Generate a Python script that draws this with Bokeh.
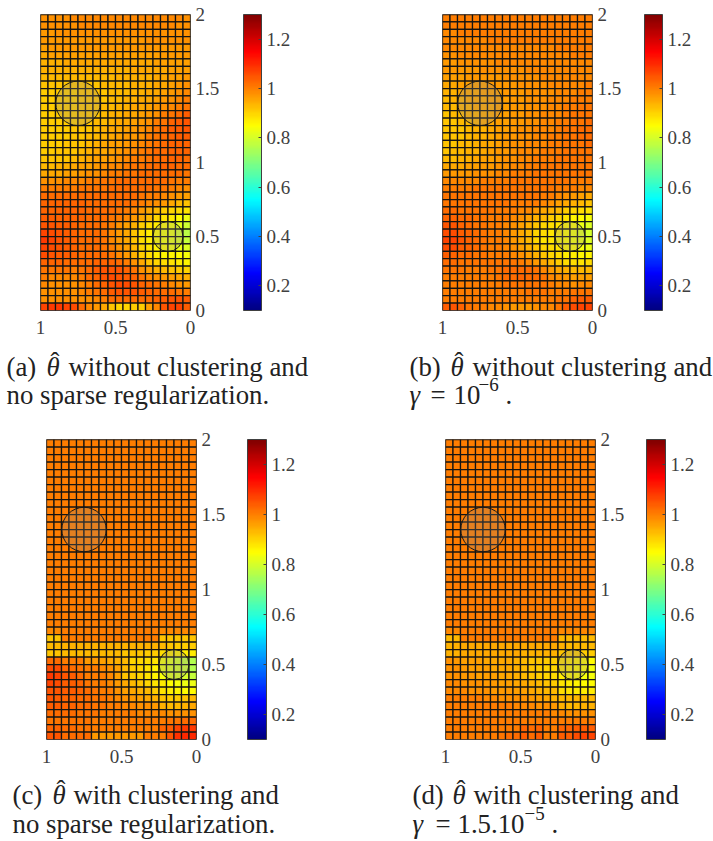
from bokeh.plotting import figure
from bokeh.layouts import column, row
from bokeh.models import (ColorBar, ColumnDataSource, CustomJSTickFormatter, FixedTicker,
                          Label, LinearColorMapper, Range1d)
from bokeh.embed import file_html
from bokeh.resources import INLINE

# Values in hundredths; rows run from y=2 (top) to y=0, columns from x=1 (left) to x=0.
theta_a = [
[98,98,98,98,99,99,99,99,99,99,99,99,99,99,99,99,99,99,99,98],
[98,98,98,98,98,99,99,99,99,99,99,99,99,99,99,99,99,99,98,98],
[97,97,98,98,98,98,98,98,98,98,98,98,98,98,98,98,98,98,98,98],
[97,97,97,97,97,97,97,97,97,97,97,97,97,97,98,98,98,98,98,98],
[96,97,97,97,97,97,97,97,97,97,97,97,97,97,97,97,97,97,97,97],
[95,96,96,96,96,96,96,96,96,96,96,96,96,96,96,96,97,97,97,97],
[94,94,94,95,95,95,95,95,95,95,95,95,95,95,95,96,96,96,96,96],
[94,94,94,94,94,94,94,94,94,94,94,94,95,95,95,95,95,96,96,96],
[93,93,93,93,93,93,93,93,93,93,94,94,94,94,94,95,95,96,96,97],
[92,92,92,92,92,92,92,92,93,93,93,93,94,94,94,95,95,96,97,98],
[91,91,91,91,91,92,92,92,92,93,93,93,94,94,95,95,96,97,98,99],
[91,91,91,91,91,92,92,92,92,93,93,94,94,95,95,96,97,98,99,100],
[91,91,91,91,91,92,92,92,93,93,94,94,95,95,96,97,98,99,100,101],
[91,91,91,91,91,92,92,92,93,94,94,95,95,96,97,98,100,101,102,104],
[91,91,91,91,91,92,92,93,93,94,95,95,96,97,98,100,101,103,104,105],
[91,91,91,91,92,92,92,93,94,95,95,96,97,98,99,101,102,104,104,105],
[91,91,91,91,92,92,93,93,94,95,96,97,97,98,100,101,102,103,104,104],
[91,91,91,92,92,92,93,94,95,96,96,97,98,99,100,101,102,103,103,103],
[91,91,92,92,92,93,94,95,95,96,97,98,99,100,101,102,102,103,103,103],
[92,92,92,92,93,94,95,96,96,97,98,99,100,100,101,102,102,103,103,102],
[93,93,94,94,95,96,96,97,98,99,99,100,101,101,102,102,103,103,102,102],
[95,95,95,96,96,97,98,98,99,100,100,101,101,102,102,102,102,102,102,101],
[98,98,98,99,99,99,100,100,101,101,102,102,102,102,102,102,102,101,100,100],
[100,100,100,100,100,101,101,101,101,102,102,102,102,102,102,101,101,100,99,98],
[102,102,102,102,102,102,102,102,102,102,102,102,102,101,100,100,99,98,97,96],
[103,103,103,103,103,103,102,102,102,102,102,102,101,100,99,98,97,95,93,92],
[103,103,103,103,103,103,102,102,102,102,101,100,99,97,95,93,91,90,89,88],
[104,104,103,103,103,103,102,102,102,101,100,99,97,95,93,90,88,87,85,83],
[105,105,104,104,103,102,102,102,101,100,98,96,94,91,89,87,85,84,82,79],
[107,106,105,104,103,102,102,102,101,99,97,95,92,89,87,85,84,83,80,77],
[108,107,105,104,103,102,102,102,101,99,97,95,92,89,87,85,84,83,81,78],
[107,106,105,104,103,102,102,102,101,100,98,96,93,90,88,86,85,84,83,81],
[106,105,104,104,103,102,102,102,102,101,99,97,94,91,89,87,86,86,85,84],
[103,103,103,102,102,102,102,103,103,103,102,100,98,95,92,90,89,88,87,86],
[101,101,101,101,100,101,102,104,105,105,105,103,101,98,96,94,93,92,91,90],
[100,99,99,99,99,100,102,103,105,106,105,104,103,101,99,98,97,96,95,94],
[99,98,98,98,98,99,100,102,103,105,106,106,105,103,102,101,100,99,98,97],
[98,98,98,98,98,99,100,101,102,104,105,105,105,104,103,102,102,102,101,100],
[98,98,98,98,98,98,98,99,100,102,102,102,102,102,102,103,104,105,105,104],
[107,108,108,107,106,102,99,97,95,92,90,90,91,91,96,99,105,107,107,104],
]

theta_b = [
[100,100,100,100,100,100,100,100,100,100,100,100,100,100,100,100,100,100,100,100],
[100,100,100,100,100,100,100,100,100,100,100,100,100,100,100,100,100,100,100,100],
[99,99,100,100,100,100,100,100,100,100,100,100,100,100,100,100,100,100,100,100],
[99,99,99,99,99,99,100,100,100,100,100,100,100,100,100,100,100,100,100,100],
[99,99,99,99,99,99,99,99,99,99,99,99,99,99,99,100,100,100,100,100],
[98,98,99,99,99,99,99,99,99,99,99,99,99,99,99,99,99,100,100,100],
[97,97,98,98,98,98,98,99,99,99,99,99,99,99,99,99,99,99,99,99],
[97,97,97,97,97,98,98,98,98,98,98,99,99,99,99,99,99,99,99,99],
[96,96,96,97,97,97,97,97,98,98,98,98,98,99,99,99,99,99,99,99],
[95,95,96,96,96,96,97,97,97,97,98,98,98,98,99,99,99,99,99,100],
[94,94,95,95,95,96,96,96,97,97,97,98,98,98,98,99,99,99,100,100],
[93,94,94,95,95,95,96,96,96,97,97,98,98,98,99,99,99,100,100,100],
[93,93,94,94,95,95,95,96,96,97,97,98,98,98,99,99,100,100,101,101],
[92,93,93,94,94,95,95,96,96,97,97,98,98,99,99,99,100,101,101,101],
[92,92,93,93,94,95,95,96,96,97,97,98,98,99,99,100,100,101,101,102],
[92,92,92,93,94,94,95,96,96,97,98,98,99,99,99,100,101,101,102,102],
[92,92,92,93,94,94,95,96,97,97,98,98,99,99,100,100,101,101,102,102],
[92,92,93,93,94,95,95,96,97,98,98,99,99,99,100,100,101,101,101,102],
[92,93,93,94,94,95,96,97,97,98,99,99,99,100,100,100,101,101,101,101],
[93,93,94,94,95,96,96,97,98,98,99,99,100,100,100,101,101,101,101,101],
[95,95,95,96,96,97,97,98,98,99,99,100,100,101,101,101,101,101,101,101],
[97,97,97,97,98,98,98,99,99,100,100,100,101,101,101,101,101,101,101,101],
[99,99,99,99,99,100,100,100,100,101,101,101,101,101,101,101,101,100,100,100],
[100,100,100,100,101,101,101,101,101,101,101,101,101,101,101,100,100,100,99,99],
[101,101,101,101,101,101,101,101,101,101,101,101,101,100,100,99,98,97,96,95],
[101,101,101,101,101,101,101,101,101,100,100,100,100,99,98,96,95,94,93,92],
[102,102,101,101,101,101,101,100,100,100,99,99,97,95,94,93,91,90,89,88],
[103,103,102,102,101,101,100,100,100,99,98,96,94,93,91,90,88,86,85,84],
[105,105,103,102,101,101,100,100,99,98,96,94,92,90,89,88,86,85,83,81],
[106,106,104,103,102,101,100,100,99,97,95,93,90,89,88,87,85,84,82,80],
[107,107,105,103,102,101,100,100,99,97,95,93,90,88,88,86,85,84,83,81],
[106,106,104,103,102,101,100,100,99,98,96,94,92,90,89,88,86,85,84,83],
[104,103,102,102,101,101,100,100,100,99,98,96,94,92,90,89,87,87,86,86],
[102,102,101,101,101,101,101,101,101,101,100,99,97,95,93,91,89,89,88,89],
[101,101,101,100,100,100,101,101,102,102,102,102,101,99,97,95,94,93,93,93],
[100,100,100,100,100,100,100,101,102,102,103,102,102,101,99,98,97,96,96,96],
[100,100,100,100,100,100,100,100,101,101,101,101,101,101,100,99,99,98,99,99],
[100,100,100,100,100,100,100,100,100,100,100,101,101,101,100,100,100,101,101,101],
[100,100,100,100,100,100,100,100,100,100,100,100,100,100,100,101,101,103,104,104],
[104,105,103,101,100,100,99,99,98,97,97,97,98,99,99,101,104,106,107,107],
]

theta_c = [
[100,100,100,100,100,100,100,100,100,100,100,100,100,100,100,100,100,100,100,100],
[100,100,100,100,100,100,100,100,100,100,100,100,100,100,100,100,100,100,100,100],
[100,100,100,100,100,100,100,100,100,100,100,100,100,100,100,100,100,100,100,100],
[100,100,100,100,100,100,100,100,100,100,100,100,100,100,100,100,100,100,100,100],
[100,100,100,100,100,100,100,100,100,100,100,100,100,100,100,100,100,100,100,100],
[100,100,100,100,100,100,100,100,100,100,100,100,100,100,100,100,100,100,100,100],
[100,100,100,100,100,100,100,100,100,100,100,100,100,100,100,100,100,100,100,100],
[100,100,100,100,100,100,100,100,100,100,100,100,100,100,100,100,100,100,100,100],
[100,100,100,100,100,100,100,100,100,100,100,100,100,100,100,100,100,100,100,100],
[100,100,100,100,100,100,100,100,100,100,100,100,100,100,100,100,100,100,100,100],
[100,100,100,100,100,100,100,100,100,100,100,100,100,100,100,100,100,100,100,100],
[100,100,100,100,100,100,100,100,100,100,100,100,100,100,100,100,100,100,100,100],
[100,100,100,100,100,100,100,100,100,100,100,100,100,100,100,100,100,100,100,100],
[100,100,100,100,100,100,100,100,100,100,100,100,100,100,100,100,100,100,100,100],
[100,100,100,100,100,100,100,100,100,100,100,100,100,100,100,100,100,100,100,100],
[100,100,100,100,100,100,100,100,100,100,100,100,100,100,100,100,100,100,100,100],
[100,100,100,100,100,100,100,100,100,100,100,100,100,100,100,100,100,100,100,100],
[100,100,100,100,100,100,100,100,100,100,100,100,100,100,100,100,100,100,100,100],
[100,100,100,100,100,100,100,100,100,100,100,100,100,100,100,100,100,100,100,100],
[100,100,100,100,100,100,100,100,100,100,100,100,100,100,100,100,100,100,100,100],
[100,100,100,100,100,100,100,100,100,100,100,100,100,100,100,100,100,100,100,100],
[100,100,100,100,100,100,100,100,100,100,100,100,100,100,100,100,100,100,100,100],
[100,100,100,100,100,100,100,100,100,100,100,100,100,100,100,100,100,100,100,100],
[100,100,100,100,100,100,100,100,100,100,100,100,100,100,100,100,100,100,100,100],
[100,100,100,100,100,100,100,100,100,100,100,100,100,100,100,100,100,100,100,100],
[99,99,100,100,100,100,100,100,100,100,100,100,100,100,100,99,99,99,99,99],
[92,92,100,100,100,100,100,100,100,100,100,100,100,100,100,92,92,92,92,92],
[93,93,94,94,94,94,94,94,94,94,94,94,94,94,94,93,92,91,91,91],
[92,92,93,93,93,93,93,93,93,93,92,92,92,91,91,89,88,87,87,87],
[102,102,100,100,100,97,97,96,95,94,93,90,90,89,88,84,82,80,78,76],
[106,106,103,102,101,100,100,99,98,96,93,91,90,88,86,83,81,80,79,76],
[108,107,105,104,102,100,100,100,99,96,92,91,90,88,86,84,82,81,80,78],
[107,106,104,104,103,101,100,100,99,97,95,93,92,90,88,87,85,84,83,83],
[105,105,104,104,103,102,101,100,100,98,96,95,94,93,91,88,87,86,85,85],
[105,104,103,103,102,102,101,101,100,99,98,97,96,95,94,92,91,91,92,93],
[104,104,103,103,102,102,101,101,100,100,99,99,98,98,97,94,93,93,94,95],
[102,102,102,102,101,101,101,100,100,100,100,100,99,99,99,99,98,98,98,98],
[101,101,101,101,101,101,100,100,100,100,100,100,100,100,100,100,101,101,102,102],
[103,103,102,102,101,101,100,100,100,100,100,100,100,100,100,103,104,107,108,108],
[105,105,102,102,102,102,97,97,97,97,97,97,97,100,100,100,105,109,110,110],
]

theta_d = [
[100,100,100,100,100,100,100,100,100,100,100,100,100,100,100,100,100,100,100,100],
[100,100,100,100,100,100,100,100,100,100,100,100,100,100,100,100,100,100,100,100],
[100,100,100,100,100,100,100,100,100,100,100,100,100,100,100,100,100,100,100,100],
[100,100,100,100,100,100,100,100,100,100,100,100,100,100,100,100,100,100,100,100],
[100,100,100,100,100,100,100,100,100,100,100,100,100,100,100,100,100,100,100,100],
[100,100,100,100,100,100,100,100,100,100,100,100,100,100,100,100,100,100,100,100],
[100,100,100,100,100,100,100,100,100,100,100,100,100,100,100,100,100,100,100,100],
[100,100,100,100,100,100,100,100,100,100,100,100,100,100,100,100,100,100,100,100],
[100,100,100,100,100,100,100,100,100,100,100,100,100,100,100,100,100,100,100,100],
[100,100,100,100,100,100,100,100,100,100,100,100,100,100,100,100,100,100,100,100],
[100,100,100,100,100,100,100,100,100,100,100,100,100,100,100,100,100,100,100,100],
[100,100,100,100,100,100,100,100,100,100,100,100,100,100,100,100,100,100,100,100],
[100,100,100,100,100,100,100,100,100,100,100,100,100,100,100,100,100,100,100,100],
[100,100,100,100,100,100,100,100,100,100,100,100,100,100,100,100,100,100,100,100],
[100,100,100,100,100,100,100,100,100,100,100,100,100,100,100,100,100,100,100,100],
[100,100,100,100,100,100,100,100,100,100,100,100,100,100,100,100,100,100,100,100],
[100,100,100,100,100,100,100,100,100,100,100,100,100,100,100,100,100,100,100,100],
[100,100,100,100,100,100,100,100,100,100,100,100,100,100,100,100,100,100,100,100],
[100,100,100,100,100,100,100,100,100,100,100,100,100,100,100,100,100,100,100,100],
[100,100,100,100,100,100,100,100,100,100,100,100,100,100,100,100,100,100,100,100],
[100,100,100,100,100,100,100,100,100,100,100,100,100,100,100,100,100,100,100,100],
[100,100,100,100,100,100,100,100,100,100,100,100,100,100,100,100,100,100,100,100],
[100,100,100,100,100,100,100,100,100,100,100,100,100,100,100,100,100,100,100,100],
[100,100,100,100,100,100,100,100,100,100,100,100,100,100,100,100,100,100,100,100],
[100,100,100,100,100,100,100,100,100,100,100,100,100,100,100,100,100,100,100,100],
[99,99,100,100,100,100,100,100,100,100,100,100,100,100,100,99,99,99,99,99],
[93,93,100,100,100,100,100,100,100,100,100,100,100,100,100,93,93,93,93,93],
[94,94,95,95,95,95,95,95,95,95,95,95,95,95,95,94,93,93,93,93],
[94,94,95,95,95,95,95,95,95,95,94,94,94,94,94,92,91,91,91,91],
[98,97,96,96,96,95,95,95,95,94,93,92,92,91,91,89,88,87,86,85],
[98,98,97,96,96,96,95,95,95,94,93,92,91,90,90,88,87,86,85,84],
[98,98,97,97,96,96,96,95,95,94,93,92,91,90,89,87,86,85,84,84],
[99,99,98,98,98,97,97,96,96,95,95,94,93,92,91,88,87,86,85,85],
[99,99,99,98,98,98,97,97,97,96,96,95,94,93,93,89,88,87,87,87],
[100,100,100,100,100,99,99,98,98,98,98,97,96,95,94,93,93,93,93,93],
[100,100,100,100,100,100,100,100,100,99,99,99,98,98,97,94,93,93,94,94],
[100,100,100,100,100,100,100,100,100,100,100,100,100,100,99,99,98,98,98,98],
[100,100,100,100,100,100,100,100,100,100,100,100,100,100,100,100,100,100,100,100],
[100,100,100,100,100,100,100,100,100,100,103,102,103,100,100,103,103,104,104,104],
[100,100,100,100,100,100,100,101,102,102,104,102,104,100,100,104,104,106,107,107],
]

x_tick_values = [1, 0.5, 0]
y_tick_values = [0, 0.5, 1, 1.5, 2]
colorbar_ticks = [0.2, 0.4, 0.6, 0.8, 1, 1.2]
color_low, color_high = 0.1, 1.3
circle_x = [0.75, 0.15]
circle_y = [1.4, 0.5]
circle_r = [0.148, 0.1]

cap_a1 = [("(a)", 6, "normal"), ("\u03b8", 46, "italic"), ("\u02c6", 50, "hat"), ("without clustering and", 68, "normal")]
cap_a2 = [("no sparse regularization.", 6, "normal")]
cap_b1 = [("(b)", 409, "normal"), ("\u03b8", 450, "italic"), ("\u02c6", 454, "hat"), ("without clustering and", 472, "normal")]
cap_b2 = [("\u03b3", 409, "italic"), ("=", 430, "normal"), ("10", 453, "normal"), ("\u22126", 478, "sup"), (".", 505, "normal")]
cap_c1 = [("(c)", 12, "normal"), ("\u03b8", 52, "italic"), ("\u02c6", 56, "hat"), ("with clustering and", 73, "normal")]
cap_c2 = [("no sparse regularization.", 12, "normal")]
cap_d1 = [("(d)", 412, "normal"), ("\u03b8", 452, "italic"), ("\u02c6", 456, "hat"), ("with clustering and", 473, "normal")]
cap_d2 = [("\u03b3", 412, "italic"), ("=", 435, "normal"), ("1.5.10", 457, "normal"), ("\u22125", 524, "sup"), (".", 551, "normal")]


def jet(n=256):
    out = []
    for i in range(n):
        t = i / (n - 1)
        f = lambda c: int(round(255 * max(0.0, min(1.0, 1.5 - abs(4 * t - c)))))
        out.append("#%02x%02x%02x" % (f(3), f(2), f(1)))
    return out


TICK_FMT = "return String(Math.round(tick*10)/10)"
INK = "#404040"
FONT = "Liberation Serif"
RAISE = {"sup": 19, "hat": 14, "italic": 9, "normal": 9}


def panel(table, w, h, left, top, fh, bar_x, bar_w):
    p = figure(width=w, height=h, frame_width=150, frame_height=fh, min_border_left=left, min_border_top=top,
               min_border_right=w - left - 150, min_border_bottom=h - top - fh,
               x_range=Range1d(1, 0), y_range=Range1d(0, 2), y_axis_location="right",
               toolbar_location=None, output_backend="svg", background_fill_color="white",
               outline_line_color="#707070", outline_line_width=1)
    p.grid.visible = False
    mapper = LinearColorMapper(palette=jet(), low=color_low, high=color_high)
    xs, ys, vs = [], [], []
    for r, vals in enumerate(table):
        for c, v in enumerate(vals):
            xs.append(1 - (c + 0.5) / 20)
            ys.append(2 - (r + 0.5) / 20)
            vs.append(v / 100)
    src = ColumnDataSource(dict(x=xs, y=ys, v=vs))
    p.rect("x", "y", width=0.05, height=0.05, source=src,
           fill_color={"field": "v", "transform": mapper}, line_color="#141414", line_width=1.25)
    p.circle(circle_x, circle_y, radius=circle_r, fill_color="#898989", fill_alpha=0.24,
             line_color="#181818", line_width=1)
    for ax, ticks in ((p.xaxis[0], x_tick_values), (p.yaxis[0], y_tick_values)):
        ax.ticker = FixedTicker(ticks=ticks)
        ax.formatter = CustomJSTickFormatter(code=TICK_FMT)
        ax.axis_line_color = None
        ax.major_tick_line_color = None
        ax.minor_tick_line_color = None
        ax.major_tick_out = 0
        ax.major_tick_in = 0
        ax.major_label_text_font = FONT
        ax.major_label_text_font_size = "19px"
        ax.major_label_text_color = INK
    p.xaxis[0].major_label_standoff = 10
    p.yaxis[0].major_label_standoff = 5
    cb = ColorBar(color_mapper=mapper, location=(bar_x, 0), width=bar_w, height=fh, padding=0, margin=0,
                  ticker=FixedTicker(ticks=colorbar_ticks), formatter=CustomJSTickFormatter(code=TICK_FMT),
                  bar_line_color=INK, bar_line_width=1, major_tick_line_color=INK, major_tick_in=3,
                  major_tick_out=0, minor_tick_line_color=None, label_standoff=5, background_fill_color=None,
                  border_line_color=None, major_label_text_font=FONT, major_label_text_font_size="19px",
                  major_label_text_color=INK)
    p.add_layout(cb, "center")
    return p


def caption(w, h, ox, oy, lines):
    p = figure(width=w, height=h, min_border=0, x_range=Range1d(0, w), y_range=Range1d(0, h),
               toolbar_location=None, output_backend="svg", outline_line_color=None,
               x_axis_location=None, y_axis_location=None)
    p.grid.visible = False
    for baseline, segs in lines:
        for text, x, kind in segs:
            p.add_layout(Label(x=x - ox, y=h - (baseline - oy), text=text, text_font=FONT,
                               text_color="#222222", text_baseline="alphabetic",
                               text_font_size="19px" if kind == "sup" else "26.8px",
                               text_font_style="italic" if kind == "italic" else "normal",
                               y_offset=RAISE[kind]))
    return p


a = panel(theta_a, 400, 345, 40, 14, 296, 203, 18)
b = panel(theta_b, 313, 345, 42, 14, 296, 202, 18)
c = panel(theta_c, 400, 335, 46, 9, 300, 201, 19)
d = panel(theta_d, 313, 335, 45, 9, 300, 201, 19)
ca = caption(400, 85, 0, 345, [(375, cap_a1), (403, cap_a2)])
cb_ = caption(313, 85, 400, 345, [(375, cap_b1), (403, cap_b2)])
cc = caption(400, 76, 0, 765, [(803, cap_c1), (832, cap_c2)])
cd = caption(313, 76, 400, 765, [(803, cap_d1), (832, cap_d2)])

page = column(row(a, b), row(ca, cb_), row(c, d), row(cc, cd), spacing=0)
html = file_html(page, INLINE)
open("out.html", "w").write(html)
